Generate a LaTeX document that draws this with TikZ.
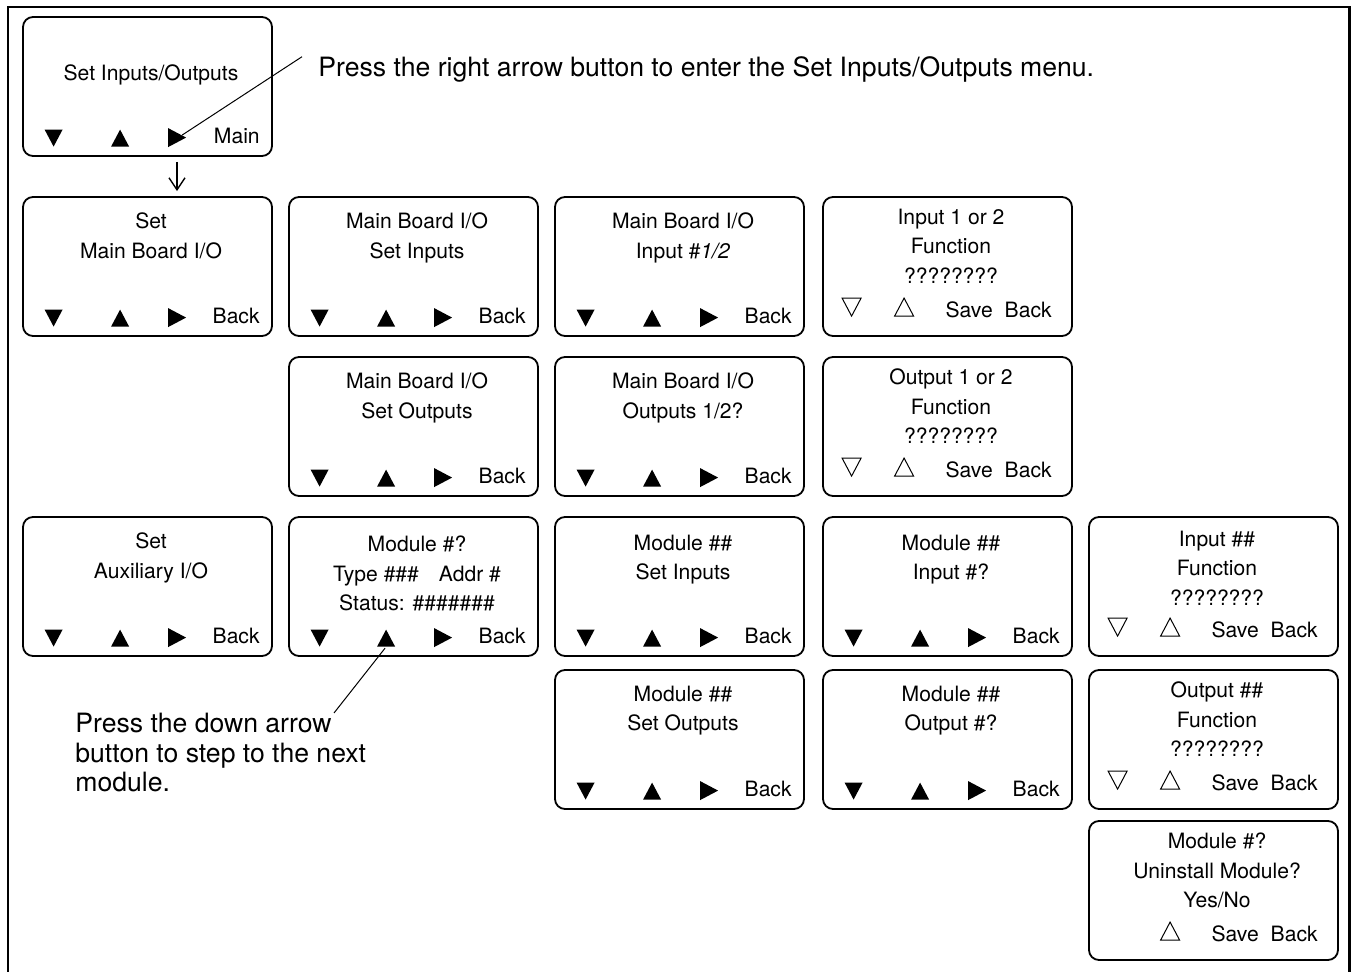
\documentclass[tikz,border=0pt]{standalone}
\usepackage{fontspec}
\setmainfont{TeX Gyre Heros}
\usetikzlibrary{arrows.meta}

\begin{document}
\begin{tikzpicture}[
        x=0.5pt, y=-0.5pt,
        >={Straight Barb[length=6pt,width=8pt]},
        screen/.style={draw,line width=0.9pt,rounded corners=5pt,minimum width=124.5pt,minimum height=69.5pt,inner sep=0pt},
        lines/.style={font=\fontsize{10.55}{14.75}\selectfont,align=center,anchor=north,inner sep=0pt,xshift=1.75pt},
        keytext/.style={font=\fontsize{10.55}{12}\selectfont,anchor=base east,inner sep=0pt},
        note/.style={font=\fontsize{13.3}{14.75}\selectfont,align=left,inner sep=0pt},
        pointer/.style={line width=0.5pt},
        keydn/.pic={\fill (-9,-8.5) -- (9,-8.5) -- (0,8.5) -- cycle;},
        keyup/.pic={\fill (-9,8.5) -- (9,8.5) -- (0,-8.5) -- cycle;},
        keyrt/.pic={\fill (-9,-9.5) -- (9,0) -- (-9,9.5) -- cycle;},
        okeydn/.pic={\draw[line width=0.5pt,line join=miter] (-9.5,-9) -- (9.5,-9) -- (0,9) -- cycle;},
        okeyup/.pic={\draw[line width=0.5pt,line join=miter] (-9.5,9) -- (9.5,9) -- (0,-9) -- cycle;}
    ]
        \useasboundingbox (0,0) rectangle (1351,972);
        \draw[line width=1.35pt] (8,972) -- (8,7) -- (1349.5,7) -- (1349.5,972);

        % screens
        \foreach \n/\x/\y in {setio/147.5/86.5,
                setmb/147.5/266.5, mbin/413.5/266.5, mbinn/679.5/266.5, mbinf/947.5/266.5,
                mbout/413.5/426.5, mboutn/679.5/426.5, mboutf/947.5/426.5,
                setaux/147.5/586.5, modst/413.5/586.5, modin/679.5/586.5, modinn/947.5/586.5, modinf/1213.5/586.5,
                modout/679.5/739.5, modoutn/947.5/739.5, modoutf/1213.5/739.5,
                moddel/1213.5/890.5}
            \node[screen] (\n) at (\x,\y) {};

        % screen texts
        \node[lines] (setio-t) at ([yshift=-24.3pt]setio.north) {Set Inputs/Outputs};
        \node[lines] (setmb-t) at ([yshift=-8.3pt]setmb.north) {Set\\Main Board I/O};
        \node[lines] (mbin-t) at ([yshift=-8.3pt]mbin.north) {Main Board I/O\\Set Inputs};
        \node[lines] (mbinn-t) at ([yshift=-8.3pt]mbinn.north) {Main Board I/O\\Input \#\textit{1/2}};
        \node[lines] (mbinf-t) at ([yshift=-6.3pt]mbinf.north) {Input 1 or 2\\Function\\????????};
        \node[lines] (mbout-t) at ([yshift=-8.3pt]mbout.north) {Main Board I/O\\Set Outputs};
        \node[lines] (mboutn-t) at ([yshift=-8.3pt]mboutn.north) {Main Board I/O\\Outputs 1/2?};
        \node[lines] (mboutf-t) at ([yshift=-6.3pt]mboutf.north) {Output 1 or 2\\Function\\????????};
        \node[lines] (setaux-t) at ([yshift=-8.3pt]setaux.north) {Set\\Auxiliary I/O};
        \node[lines] (modst-t) at ([yshift=-9.8pt]modst.north) {Module \#?\\Type \#\#\#\hspace{10pt}Addr \#\\Status: \#\#\#\#\#\#\#};
        \node[lines] (modin-t) at ([yshift=-9.3pt]modin.north) {Module \#\#\\Set Inputs};
        \node[lines] (modinn-t) at ([yshift=-9.3pt]modinn.north) {Module \#\#\\Input \#?};
        \node[lines] (modinf-t) at ([yshift=-7.3pt]modinf.north) {Input \#\#\\Function\\????????};
        \node[lines] (modout-t) at ([yshift=-8.3pt]modout.north) {Module \#\#\\Set Outputs};
        \node[lines] (modoutn-t) at ([yshift=-8.3pt]modoutn.north) {Module \#\#\\Output \#?};
        \node[lines] (modoutf-t) at ([yshift=-6.3pt]modoutf.north) {Output \#\#\\Function\\????????};
        \node[lines] (moddel-t) at ([yshift=-6.3pt]moddel.north) {Module \#?\\Uninstall Module?\\Yes/No};

        % key rows
        \foreach \n in {setio, setmb, mbin, mbinn, mbout, mboutn, setaux, modst, modin, modinn, modout, modoutn} {
            \pic at ([xshift=15.75pt,yshift=-61pt]\n.north west) {keydn};
            \pic at ([xshift=49pt,yshift=-61pt]\n.north west) {keyup};
            \pic at ([xshift=77.5pt,yshift=-60.75pt]\n.north west) {keyrt};
        }
        \foreach \n in {setmb, mbin, mbinn, mbout, mboutn, setaux, modst, modin, modinn, modout, modoutn}
            \node[keytext] (\n-k) at ([xshift=119pt,yshift=-63.5pt]\n.north west) {Back};
        \node[keytext] (setio-k) at ([xshift=119pt,yshift=-63.5pt]setio.north west) {Main};

        \foreach \n in {mbinf, mboutf, modinf, modoutf}
            \pic at ([xshift=14.75pt,yshift=-55.5pt]\n.north west) {okeydn};
        \foreach \n in {mbinf, mboutf, modinf, modoutf, moddel} {
            \pic at ([xshift=41pt,yshift=-55.5pt]\n.north west) {okeyup};
            \node[keytext,anchor=base west] (\n-s) at ([xshift=61.5pt,yshift=-60.5pt]\n.north west) {Save};
            \node[keytext] (\n-k) at ([xshift=115pt,yshift=-60.5pt]\n.north west) {Back};
        }

        \draw[->,line width=0.7pt] ([xshift=14.75pt,yshift=-2.5pt]setio.south) -- ([xshift=14.75pt,yshift=2.5pt]setmb.north);

        % notes
        \node[note,anchor=base west] (rightnote) at (318,77) {Press the right arrow button to enter the Set Inputs/Outputs menu.};
        \coordinate (rightstart) at ([xshift=-8pt]rightnote.north west);
        \coordinate (rightkey) at ([xshift=80pt,yshift=-59.5pt]setio.north west);
        \draw[pointer] (rightstart) -- (rightkey);

        \node[note,anchor=north west] (downnote) at (75,713) {Press the down arrow\\button to step to the next\\module.};
        \coordinate (downend) at ([xshift=129.5pt]downnote.north west);
        \coordinate (upkey) at ([xshift=48.5pt,yshift=-66pt]modst.north west);
        \draw[pointer] (upkey) -- (downend);
    \end{tikzpicture}
\end{document}
